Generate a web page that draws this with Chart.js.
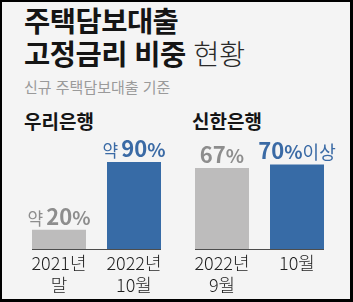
<!DOCTYPE html>
<html lang="ko">
<head>
<meta charset="utf-8">
<script src="https://cdn.jsdelivr.net/npm/chart.js@4/dist/chart.umd.min.js"></script>
<style>
  html, body { margin: 0; padding: 0; background: #000; }
  body { width: 353px; height: 302px; overflow: hidden; position: relative; font-family: "Noto Sans CJK KR", "Noto Sans", sans-serif; }
  #panel { position: absolute; left: 2px; top: 2px; width: 348px; height: 297px; background: #f4f4f4; }
  .t { position: absolute; white-space: nowrap; }
  #title { left: 24px; top: 3px; font-size: 28.5px; line-height: 33px; font-weight: 700; color: #151515; letter-spacing: -0.5px; }
  #title .light { font-weight: 300; color: #2a2a2a; }
  #sub { left: 24px; top: 77px; font-size: 15px; line-height: 20px; color: #9a9a9a; }
  .bank { top: 108px; font-size: 19px; line-height: 26px; font-weight: 700; color: #151515; }
  canvas { position: absolute; top: 0; }
</style>
</head>
<body>
<div id="panel"></div>
<div class="t" id="title">주택담보대출<br>고정금리 비중 <span class="light">현황</span></div>
<div class="t" id="sub">신규 주택담보대출 기준</div>
<div class="t bank" style="left:24px">우리은행</div>
<div class="t bank" style="left:192px">신한은행</div>
<canvas id="ch-woori" width="176" height="302" style="left:0"></canvas>
<canvas id="ch-shinhan" width="177" height="302" style="left:176px"></canvas>
<script>
const wooriCategories = [['2021년', '말'], ['2022년', '10월']];
const wooriValues = [20, 90];
const wooriPrefix = ['약', '약'];
const wooriSuffix = ['', ''];

const shinhanCategories = [['2022년', '9월'], ['10월']];
const shinhanValues = [67, 70];
const shinhanPrefix = ['', ''];
const shinhanSuffix = ['', '이상'];

const GRAY = '#bdbcbc', BLUE = '#376ba6';
const GRAY_TXT = '#8d8d8d', BLUE_TXT = '#3a6aa5';
const FONT = '"Noto Sans CJK KR", "Noto Sans", sans-serif';

// baseline under the bars + value labels above them
const barDeco = {
  id: 'barDeco',
  afterDatasetsDraw(chart, args, opts) {
    const ctx = chart.ctx;
    const bars = chart.getDatasetMeta(0).data;
    const y0 = chart.scales.y.getPixelForValue(0);
    const first = bars[0], last = bars[bars.length - 1];
    ctx.save();
    ctx.strokeStyle = '#4d4d4d';
    ctx.lineWidth = 1.2;
    ctx.beginPath();
    ctx.moveTo(first.x - first.width / 2, y0 + 0.5);
    ctx.lineTo(last.x + last.width / 2, y0 + 0.5);
    ctx.stroke();

    ctx.textBaseline = 'alphabetic';
    bars.forEach((b, i) => {
      const col = opts.textColors[i];
      const segs = [];
      if (opts.prefix[i]) segs.push({ t: opts.prefix[i], f: '400 17px ' + FONT, gap: 3 });
      segs.push({ t: String(opts.values[i]), f: '700 22px ' + FONT, gap: 0 });
      segs.push({ t: '%', f: '700 19px ' + FONT, gap: 0 });
      if (opts.suffix[i]) segs.push({ t: opts.suffix[i], f: '400 18px ' + FONT, gap: 0 });
      let w = 0;
      segs.forEach(s => { ctx.font = s.f; s.w = ctx.measureText(s.t).width; w += s.w + s.gap; });
      let x = b.x - w / 2;
      ctx.fillStyle = col;
      segs.forEach(s => { ctx.font = s.f; ctx.fillText(s.t, x, b.y - 5); x += s.w + s.gap; });
    });
    ctx.restore();
  }
};

function makeChart(id, cats, vals, yMax, pad, prefix, suffix) {
  const colors = [GRAY, BLUE];
  return new Chart(document.getElementById(id), {
    type: 'bar',
    data: {
      labels: cats,
      datasets: [{ data: vals, backgroundColor: colors, borderWidth: 0, categoryPercentage: 1, barPercentage: 0.72 }]
    },
    options: {
      responsive: false,
      animation: false,
      events: [],
      layout: { padding: pad },
      plugins: {
        legend: { display: false },
        tooltip: { enabled: false },
        barDeco: { values: vals, prefix, suffix, textColors: [GRAY_TXT, BLUE_TXT] }
      },
      scales: {
        y: { display: false, min: 0, max: yMax },
        x: {
          grid: { display: false, drawTicks: false },
          border: { display: false },
          ticks: { color: '#1e1e1e', padding: 3, font: { family: FONT, size: 18, weight: '300', lineHeight: 1.22 } },
          afterFit: s => { s.height = 50; }
        }
      }
    },
    plugins: [barDeco]
  });
}

makeChart('ch-woori', wooriCategories, wooriValues, 100,
  { left: 21.5, right: 4.5, top: 152.3, bottom: 3 }, wooriPrefix, wooriSuffix);
makeChart('ch-shinhan', shinhanCategories, shinhanValues, 80,
  { left: 8.5, right: 18.5, top: 152.3, bottom: 3 }, shinhanPrefix, shinhanSuffix);
</script>
</body>
</html>
